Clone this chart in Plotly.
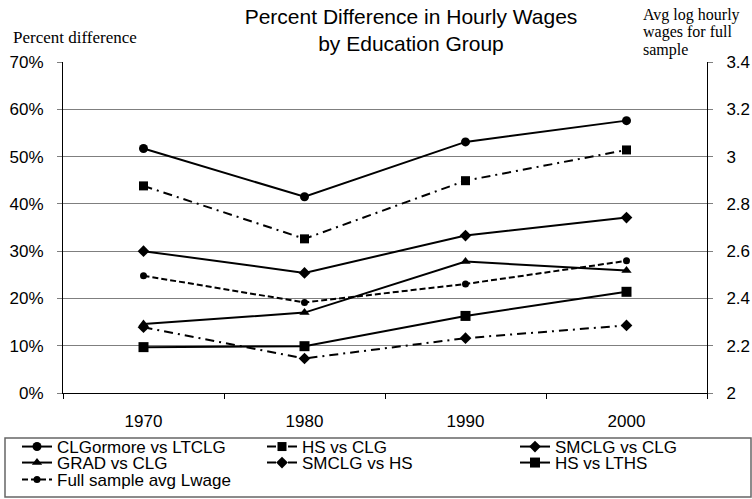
import plotly.graph_objects as go

# ---- data ----
years = ["1970", "1980", "1990", "2000"]
clg_vs_ltclg = [51.7, 41.5, 53.1, 57.6]
hs_vs_clg = [43.8, 32.6, 44.9, 51.4]
smclg_vs_clg = [30.0, 25.4, 33.3, 37.1]
grad_vs_clg = [14.6, 17.0, 27.8, 25.9]
smclg_vs_hs = [13.9, 7.3, 11.6, 14.3]
hs_vs_lths = [9.7, 9.9, 16.3, 21.4]
full_avg_lwage = [2.496, 2.383, 2.461, 2.559]

W, H = 752, 499
ML, MR, MT, MB = 63, 45, 62, 106
PW, PH = W - ML - MR, H - MT - MB

SANS = "Liberation Sans, Arial, sans-serif"
SERIF = "Liberation Serif, Times New Roman, serif"

series = [
    ("CLGormore vs LTCLG", clg_vs_ltclg, "solid", "circle", 9, "y"),
    ("HS vs CLG", hs_vs_clg, "9px,5px,2px,5px", "square", 9, "y"),
    ("SMCLG vs CLG", smclg_vs_clg, "solid", "diamond", 9, "y"),
    ("GRAD vs CLG", grad_vs_clg, "solid", "triangle-up", 9, "y"),
    ("SMCLG vs HS", smclg_vs_hs, "9px,5px,2px,5px", "diamond", 9, "y"),
    ("HS vs LTHS", hs_vs_lths, "solid", "square", 10, "y"),
    ("Full sample avg Lwage", full_avg_lwage, "6px,3px", "circle", 7, "y2"),
]

# legend slot positions (pixels in the page)
cols_px = [17, 262, 515]
rows_px = [447, 463, 480]
slots = [(0, 0), (1, 0), (2, 0), (0, 1), (1, 1), (2, 1), (0, 2)]

fig = go.Figure()
legend_layouts = {}
for i, (name, vals, dash, sym, size, yax) in enumerate(series):
    lid = "legend" if i == 0 else f"legend{i+1}"
    fig.add_trace(go.Scatter(
        x=years, y=vals, name=name, mode="lines+markers",
        line=dict(color="black", width=2, dash=dash),
        marker=dict(symbol=sym, size=size, color="black"),
        yaxis=yax, legend=lid,
    ))
    c, r = slots[i]
    legend_layouts[lid] = dict(
        xref="container", yref="container",
        x=cols_px[c] / W, y=1 - rows_px[r] / H,
        xanchor="left", yanchor="middle",
        bgcolor="rgba(0,0,0,0)", borderwidth=0,
        font=dict(family=SANS, size=17, color="black"),
        orientation="h",
    )

fig.update_layout(
    width=W, height=H,
    margin=dict(l=ML, r=MR, t=MT, b=MB, pad=0, autoexpand=False),
    paper_bgcolor="white", plot_bgcolor="white",
    showlegend=True,
    title=dict(
        text="Percent Difference in Hourly Wages<br>by Education Group",
        font=dict(family=SANS, size=21, color="black"),
        xref="container", x=411 / W, xanchor="center",
        yref="container", y=1 - 24 / H, yanchor="middle",
    ),
    xaxis=dict(
        type="category", range=[-0.5, 3.5],
        showline=True, linecolor="black", linewidth=1,
        ticks="outside", ticklen=5, tickcolor="black",
        tickson="boundaries", showgrid=False,
        tickfont=dict(family=SANS, size=17, color="black"),
        ticklabelstandoff=13,
    ),
    yaxis=dict(
        range=[0, 70], dtick=10, ticksuffix="%",
        showline=True, linecolor="black", linewidth=1,
        ticks="outside", ticklen=5, tickcolor="#7f7f7f",
        showgrid=True, gridcolor="#7f7f7f", gridwidth=1,
        zeroline=False,
        tickfont=dict(family=SANS, size=17, color="black"),
        ticklabelstandoff=10,
    ),
    yaxis2=dict(
        range=[2, 3.4], dtick=0.2, overlaying="y", side="right",
        showline=True, linecolor="black", linewidth=1,
        ticks="outside", ticklen=5, tickcolor="#7f7f7f",
        showgrid=False, zeroline=False,
        tickfont=dict(family=SANS, size=17, color="black"),
        ticklabelstandoff=10,
    ),
    **legend_layouts,
)

# axis titles as text
fig.add_annotation(text="Percent difference", xref="paper", yref="paper",
                   x=(11 - ML) / PW, y=(MT + PH - 37) / PH, xanchor="left", yanchor="middle",
                   showarrow=False, font=dict(family=SERIF, size=17, color="black"))
for j, line in enumerate(["Avg log hourly", "wages for full", "sample"]):
    fig.add_annotation(text=line, xref="paper", yref="paper",
                       x=(641 - ML) / PW, y=(MT + PH - (15 + 17.5 * j)) / PH,
                       xanchor="left", yanchor="middle", showarrow=False,
                       font=dict(family=SERIF, size=16, color="black"))

# legend frame
fig.add_shape(type="rect", xref="paper", yref="paper",
              x0=(5 - ML) / PW, x1=(751 - ML) / PW,
              y0=(MT + PH - 497) / PH, y1=(MT + PH - 438) / PH,
              line=dict(color="#666666", width=1.5), fillcolor="rgba(0,0,0,0)")

fig.write_html(
    "out.html",
    config={"displayModeBar": False},
    post_script="document.body.style.margin='0';document.body.style.padding='0';",
)
